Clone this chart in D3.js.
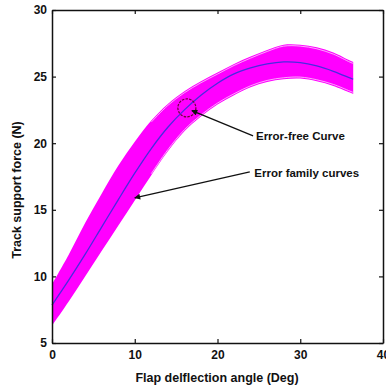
<!DOCTYPE html>
<html>
<head>
<meta charset="utf-8">
<script src="https://cdn.jsdelivr.net/npm/d3@7"></script>
<style>
  body { margin: 0; background: #fff; }
  text { font-family: "Liberation Sans", Arial, sans-serif; font-weight: bold; }
</style>
</head>
<body>
<div id="chart"></div>
<script>
// flap angle (deg) where the curves were read
var angles = [0, 2, 4, 6, 8, 10, 12, 14, 16, 18, 20, 22, 24, 26, 28, 30, 32, 34, 36, 36.4];
// error-free curve (N)
var errorFree = [7.85, 9.7, 11.65, 13.7, 15.75, 17.75, 19.6, 21.2, 22.5, 23.6, 24.5, 25.2, 25.65, 25.95, 26.1, 26.05, 25.8, 25.4, 24.9, 24.8];
// upper / lower envelope of the error family curves (N)
var familyUpper = [9.4, 11.6, 14.0, 16.2, 18.3, 20.1, 21.7, 22.95, 23.9, 24.65, 25.3, 25.95, 26.5, 27.0, 27.4, 27.4, 27.2, 26.8, 26.2, 26.1];
var familyLower = [6.3, 8.1, 10.0, 11.9, 13.8, 15.7, 17.6, 19.4, 20.9, 22.0, 22.9, 23.6, 24.2, 24.6, 24.8, 24.85, 24.65, 24.3, 23.8, 23.7];

var xTicks = [0, 10, 20, 30, 40];
var yTicks = [5, 10, 15, 20, 25, 30];

var margin = {top: 10, right: 3, bottom: 47, left: 52},
    width = 386 - margin.left - margin.right,
    height = 390 - margin.top - margin.bottom;

var svg = d3.select("#chart")
    .append("svg")
    .attr("width", 386)
    .attr("height", 390);

var g = svg.append("g")
    .attr("transform", "translate(" + margin.left + "," + margin.top + ")");

var x = d3.scaleLinear().domain([0, 40]).range([0, width]);
var y = d3.scaleLinear().domain([5, 30]).range([height, 0]);

var rows = angles.map(function(a, i) {
    return {a: a, mid: errorFree[i], hi: familyUpper[i], lo: familyLower[i]};
});

var smooth = d3.curveCatmullRom.alpha(0.5);

// band of error family curves
var band = d3.area()
    .x(function(d) { return x(d.a); })
    .y0(function(d) { return y(d.lo); })
    .y1(function(d) { return y(d.hi); })
    .curve(smooth);

g.append("path")
    .datum(rows)
    .attr("d", band)
    .attr("fill", "#ff00ff");

var edgeHi = d3.line()
    .x(function(d) { return x(d.a); })
    .y(function(d) { return y(d.hi); })
    .curve(smooth);
var edgeLo = d3.line()
    .x(function(d) { return x(d.a); })
    .y(function(d) { return y(d.lo); })
    .curve(smooth);

// a few stray family curves showing at the edges (only where the band flattens)
var flat = rows.filter(function(d) { return d.a >= 12; });
g.append("path").datum(flat).attr("d", edgeHi)
    .attr("fill", "none").attr("stroke", "#fbd2fb").attr("stroke-width", 0.8)
    .attr("transform", "translate(0,1.5)");
g.append("path").datum(flat).attr("d", edgeLo)
    .attr("fill", "none").attr("stroke", "#fbd2fb").attr("stroke-width", 0.8)
    .attr("transform", "translate(0,-1.5)");

// error-free curve
var midLine = d3.line()
    .x(function(d) { return x(d.a); })
    .y(function(d) { return y(d.mid); })
    .curve(smooth);

g.append("path")
    .datum(rows)
    .attr("d", midLine)
    .attr("fill", "none")
    .attr("stroke", "#4a2ae0")
    .attr("stroke-width", 1.3);

// axes, matlab style box with inward ticks
var fmt = d3.format("d");
g.append("g")
    .attr("transform", "translate(0," + height + ")")
    .call(d3.axisBottom(x).tickValues(xTicks).tickFormat(fmt).tickSizeInner(-4).tickSizeOuter(0).tickPadding(7));
g.append("g")
    .call(d3.axisTop(x).tickValues(xTicks).tickFormat("").tickSizeInner(-4).tickSizeOuter(0));
g.append("g")
    .call(d3.axisLeft(y).tickValues(yTicks).tickFormat(fmt).tickSizeInner(-4).tickSizeOuter(0).tickPadding(5));
g.append("g")
    .attr("transform", "translate(" + width + ",0)")
    .call(d3.axisRight(y).tickValues(yTicks).tickFormat("").tickSizeInner(-4).tickSizeOuter(0));

g.selectAll(".domain").attr("stroke", "#111").attr("stroke-width", 1.5);
g.selectAll(".tick line").attr("stroke", "#111").attr("stroke-width", 1.2);
g.selectAll(".tick text")
    .attr("font-size", "12px")
    .attr("font-weight", "bold")
    .attr("font-family", "Liberation Sans, Arial, sans-serif")
    .attr("fill", "#111");

// axis titles
svg.append("text")
    .attr("x", 217)
    .attr("y", 382)
    .attr("text-anchor", "middle")
    .attr("font-size", "12.5px")
    .attr("fill", "#111")
    .text("Flap delflection angle (Deg)");

svg.append("text")
    .attr("transform", "translate(21,190) rotate(-90)")
    .attr("text-anchor", "middle")
    .attr("font-size", "12.5px")
    .attr("fill", "#111")
    .text("Track support force (N)");

// annotations (data units)
var marker = {a: 16.3, v: 22.65, r: 9};
var notes = [
    {text: "Error-free Curve", from: [24.3, 20.55], to: [16.9, 22.45], at: [24.65, 20.25]},
    {text: "Error family curves", from: [23.9, 17.85], to: [10.0, 15.9], at: [24.45, 17.45]}
];

svg.append("defs").append("marker")
    .attr("id", "head")
    .attr("viewBox", "0 0 10 10")
    .attr("refX", 9).attr("refY", 5)
    .attr("markerWidth", 7).attr("markerHeight", 6)
    .attr("markerUnits", "userSpaceOnUse")
    .attr("orient", "auto")
    .append("path")
    .attr("d", "M0,0 L10,5 L0,10 z")
    .attr("fill", "#111");

g.append("circle")
    .attr("cx", x(marker.a))
    .attr("cy", y(marker.v))
    .attr("r", marker.r)
    .attr("fill", "none")
    .attr("stroke", "#6a0838")
    .attr("stroke-width", 1.2)
    .attr("stroke-dasharray", "2.5,1.2");

g.selectAll(".note-line")
    .data(notes)
    .enter()
    .append("line")
    .attr("x1", function(d) { return x(d.from[0]); })
    .attr("y1", function(d) { return y(d.from[1]); })
    .attr("x2", function(d) { return x(d.to[0]); })
    .attr("y2", function(d) { return y(d.to[1]); })
    .attr("stroke", "#111")
    .attr("stroke-width", 1.3)
    .attr("marker-end", "url(#head)");

g.selectAll(".note-text")
    .data(notes)
    .enter()
    .append("text")
    .attr("x", function(d) { return x(d.at[0]); })
    .attr("y", function(d) { return y(d.at[1]); })
    .attr("font-size", "11.5px")
    .attr("fill", "#111")
    .text(function(d) { return d.text; });
</script>
</body>
</html>
